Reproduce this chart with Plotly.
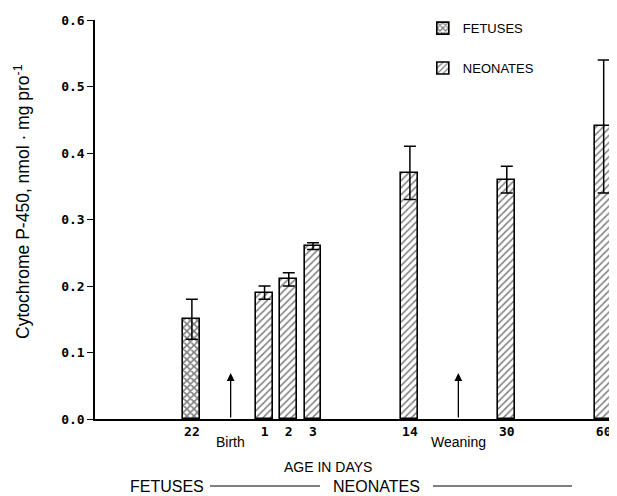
import plotly.graph_objects as go

# Data
fetus_labels = ["22"]
fetus_pos = [0]
fetus_vals = [0.15]
fetus_err = [0.03]

neo_labels = ["1", "2", "3", "14", "30", "60"]
neo_pos = [3, 4, 5, 9, 13, 17]
neo_vals = [0.19, 0.21, 0.26, 0.37, 0.36, 0.44]
neo_err = [0.01, 0.01, 0.005, 0.04, 0.02, 0.10]

events = ["Birth", "Weaning"]
event_pos = [1.6, 11.0]

SANS = "Liberation Sans, Arial"
tick_font = dict(family="DejaVu Sans Mono", size=13, color="black", weight="bold")
leg_font = dict(family=SANS, size=13, color="black")

fig = go.Figure()
fig.add_trace(go.Bar(
    x=fetus_pos, y=fetus_vals, name="FETUSES", width=0.7,
    marker=dict(color="white", line=dict(color="black", width=1.6),
                pattern=dict(shape="x", fgcolor="black", bgcolor="white", size=5, solidity=0.55)),
    error_y=dict(type="data", array=fetus_err, color="black", thickness=1.5, width=6),
    legendgroup="f",
))
fig.add_trace(go.Bar(
    x=neo_pos, y=neo_vals, name="NEONATES", width=0.7,
    marker=dict(color="white", line=dict(color="black", width=1.6),
                pattern=dict(shape="/", fgcolor="black", bgcolor="white", size=5, solidity=0.3)),
    error_y=dict(type="data", array=neo_err, color="black", thickness=1.5, width=6),
    legendgroup="n",
))

annotations = []
for name, p in zip(events, event_pos):
    annotations.append(dict(x=p, y=0.069, ax=p, ay=0, xref="x", yref="y", axref="x", ayref="y",
                            text="", showarrow=True, arrowhead=2, arrowsize=1.2, arrowwidth=1.3,
                            arrowcolor="black"))
    annotations.append(dict(x=p, y=-23 / 399, xref="x", yref="paper", text=name, showarrow=False,
                            xanchor="center", yanchor="middle",
                            font=dict(family=SANS, size=14, color="black")))

annotations.append(dict(x=(328 - 95) / 522, y=-48 / 399, xref="paper", yref="paper", text="AGE IN DAYS",
                        showarrow=False, xanchor="center", yanchor="middle",
                        font=dict(family=SANS, size=14, color="black")))
annotations.append(dict(x=(167 - 95) / 522, y=-67 / 399, xref="paper", yref="paper", text="FETUSES",
                        showarrow=False, xanchor="center", yanchor="middle",
                        font=dict(family=SANS, size=16, color="black")))
annotations.append(dict(x=(376 - 95) / 522, y=-67 / 399, xref="paper", yref="paper", text="NEONATES",
                        showarrow=False, xanchor="center", yanchor="middle",
                        font=dict(family=SANS, size=16, color="black")))
annotations.append(dict(x=0, y=(419 - 202) / 399, xref="paper", yref="paper", xanchor="center",
                        yanchor="middle", xshift=-73,
                        text="Cytochrome P-450, nmol · mg pro<sup>-1</sup>", textangle=-90,
                        showarrow=False, font=dict(family=SANS, size=17.5, color="black")))

shapes = [
    dict(type="line", xref="paper", yref="paper", x0=(210 - 95) / 522, x1=(320 - 95) / 522,
         y0=-67 / 399, y1=-67 / 399, line=dict(color="black", width=1)),
    dict(type="line", xref="paper", yref="paper", x0=(433 - 95) / 522, x1=(572 - 95) / 522,
         y0=-67 / 399, y1=-67 / 399, line=dict(color="black", width=1)),
]

# page body has an 8px margin; compensate so the plot lands where the reference has it
fig.update_layout(
    width=609, height=488,
    margin=dict(l=87, r=0, t=12, b=77),
    plot_bgcolor="white", paper_bgcolor="white",
    showlegend=True,
    legend=dict(x=0.628, y=1.017, xanchor="left", yanchor="top", font=leg_font,
                tracegroupgap=20, bgcolor="rgba(0,0,0,0)"),
    annotations=annotations,
    shapes=shapes,
    bargap=0,
)
fig.update_xaxes(range=[-4, 17.55], tickvals=fetus_pos + neo_pos, ticktext=fetus_labels + neo_labels,
                 showline=True, linecolor="black", linewidth=1.5, ticks="", showgrid=False,
                 zeroline=False, tickfont=tick_font)
fig.update_yaxes(range=[0, 0.6], tickvals=[0, 0.1, 0.2, 0.3, 0.4, 0.5, 0.6],
                 ticktext=["0.0", "0.1", "0.2", "0.3", "0.4", "0.5", "0.6"],
                 showline=True, linecolor="black", linewidth=1.5, ticks="outside", ticklen=6,
                 tickcolor="black", tickwidth=1.2, showgrid=False, zeroline=False, tickfont=tick_font)

fig.write_html("out.html")
